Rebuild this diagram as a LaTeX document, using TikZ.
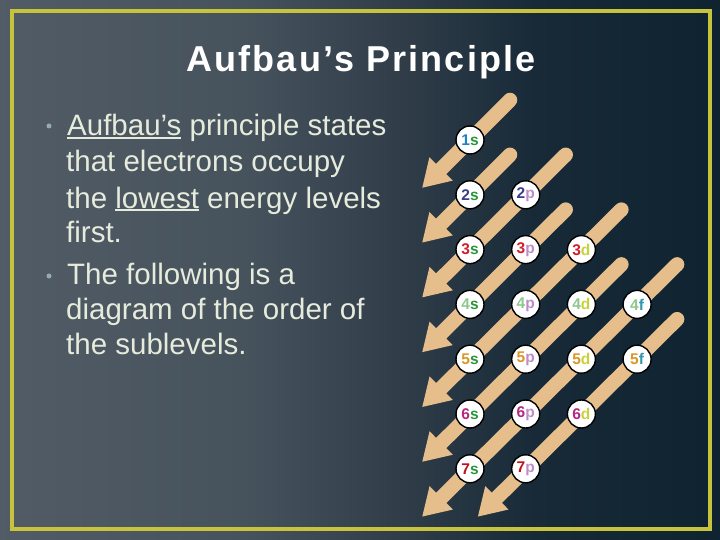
\documentclass[tikz,border=0pt]{standalone}
\usepackage{fontspec}
\setmainfont{Liberation Sans}
\newfontfamily\titlefont{Liberation Sans}[LetterSpace=6]
\usetikzlibrary{arrows.meta}
\definecolor{bgA}{RGB}{72,82,92}
\definecolor{bgB}{RGB}{84,94,104}
\definecolor{bgC}{RGB}{70,82,92}
\definecolor{bgD}{RGB}{48,61,73}
\definecolor{bgE}{RGB}{24,42,56}
\definecolor{bgF}{RGB}{14,34,48}
\definecolor{bgG}{RGB}{10,30,44}
\definecolor{framec}{RGB}{200,195,60}
\definecolor{tanc}{RGB}{230,190,140}
\definecolor{bodyc}{RGB}{230,235,220}
\definecolor{bulc}{RGB}{150,170,180}
\definecolor{d1}{RGB}{30,130,200}
\definecolor{d2}{RGB}{60,60,140}
\definecolor{d3}{RGB}{210,30,40}
\definecolor{d4}{RGB}{140,200,140}
\definecolor{d5}{RGB}{220,150,40}
\definecolor{d6}{RGB}{180,40,130}
\definecolor{d7}{RGB}{190,20,30}
\definecolor{ls}{RGB}{40,150,60}
\definecolor{lp}{RGB}{190,140,200}
\definecolor{ld}{RGB}{200,210,60}
\definecolor{lf}{RGB}{50,150,170}
\pgfdeclarehorizontalshading{bgshade}{100bp}{color(0bp)=(bgA); color(21bp)=(bgB); color(42bp)=(bgC); color(53bp)=(bgD); color(62bp)=(bgE); color(76bp)=(bgF); color(100bp)=(bgG)}
\pgfdeclarelayer{back}
\pgfdeclarelayer{mid}
\pgfsetlayers{back,mid,main}
\newcommand\myul[1]{\setbox0\hbox{#1}\rlap{\rule[-3pt]{\wd0}{1.8pt}}#1}
\newcommand\orbtext[4]{\textcolor{#1}{#2}\textcolor{#3}{#4}}
\begin{document}
\begin{tikzpicture}[x=1pt,y=-1pt,
  orb/.style={circle, draw=black, line width=1.4pt, fill=white, minimum size=28pt, inner sep=0pt, font=\fontsize{15.5}{15.5}\selectfont\bfseries},
  chan/.style={draw=tanc, line width=14.5pt, line cap=round, -{Triangle[width=31pt,length=27pt]}},
  body/.style={anchor=base west, inner sep=0pt, text=bodyc, font=\fontsize{29.5}{36}\selectfont},
  bul/.style={circle, fill=bulc, minimum size=5pt, inner sep=0pt},
  framebox/.style={draw=framec, line width=3.2pt}]
\useasboundingbox (0,0) rectangle (720,540);
\begin{pgfonlayer}{back}
\shade[shading=bgshade] (0,0) rectangle (720,540);
\draw[framebox] (12,11) rectangle (710,529);
\end{pgfonlayer}
% title
\node[font=\titlefont\bfseries\fontsize{36}{40}\selectfont, text=white, anchor=base, inner sep=0pt] (title) at (361,72) {Aufbau’s Principle};
% body
\node[bul] (b1) at (49,126) {};
\node[body] (t1) at (67,136) {\myul{Aufbau’s} principle states};
\node[body] (t2) at (66,172) {that electrons occupy};
\node[body] (t3) at (66,208) {the \myul{lowest} energy levels};
\node[body] (t4) at (66,243) {first.};
\node[bul] (b2) at (49,276) {};
\node[body] (t5) at (67,284) {The following is a};
\node[body] (t6) at (66,319) {diagram of the order of};
\node[body] (t7) at (66,354) {the sublevels.};
% orbitals
\node[orb] (o1s) at (470,140) {\orbtext{d1}{1}{ls}{s}};
\node[orb] (o2s) at (470,194.8) {\orbtext{d2}{2}{ls}{s}};
\node[orb] (o2p) at (525.7,194.8) {\orbtext{d2}{2}{lp}{p}};
\node[orb] (o3s) at (470,249.6) {\orbtext{d3}{3}{ls}{s}};
\node[orb] (o3p) at (525.7,249.6) {\orbtext{d3}{3}{lp}{p}};
\node[orb] (o3d) at (581.4,249.6) {\orbtext{d3}{3}{ld}{d}};
\node[orb] (o4s) at (470,304.4) {\orbtext{d4}{4}{ls}{s}};
\node[orb] (o4p) at (525.7,304.4) {\orbtext{d4}{4}{lp}{p}};
\node[orb] (o4d) at (581.4,304.4) {\orbtext{d4}{4}{ld}{d}};
\node[orb] (o4f) at (637.1,304.4) {\orbtext{d4}{4}{lf}{f}};
\node[orb] (o5s) at (470,359.2) {\orbtext{d5}{5}{ls}{s}};
\node[orb] (o5p) at (525.7,359.2) {\orbtext{d5}{5}{lp}{p}};
\node[orb] (o5d) at (581.4,359.2) {\orbtext{d5}{5}{ld}{d}};
\node[orb] (o5f) at (637.1,359.2) {\orbtext{d5}{5}{lf}{f}};
\node[orb] (o6s) at (470,414) {\orbtext{d6}{6}{ls}{s}};
\node[orb] (o6p) at (525.7,414) {\orbtext{d6}{6}{lp}{p}};
\node[orb] (o6d) at (581.4,414) {\orbtext{d6}{6}{ld}{d}};
\node[orb] (o7s) at (470,468.8) {\orbtext{d7}{7}{ls}{s}};
\node[orb] (o7p) at (525.7,468.8) {\orbtext{d7}{7}{lp}{p}};
% diagonal arrows
\begin{pgfonlayer}{mid}
\draw[chan] ([shift={(40,-40)}]o1s.center) -- ([shift={(-48,48)}]o1s.center);
\draw[chan] ([shift={(40,-40)}]o2s.center) -- ([shift={(-48,48)}]o2s.center);
\draw[chan] ([shift={(40,-40)}]o2p.center) -- ([shift={(-48,48)}]o3s.center);
\draw[chan] ([shift={(40,-40)}]o3p.center) -- ([shift={(-48,48)}]o4s.center);
\draw[chan] ([shift={(40,-40)}]o3d.center) -- ([shift={(-48,48)}]o5s.center);
\draw[chan] ([shift={(40,-40)}]o4d.center) -- ([shift={(-48,48)}]o6s.center);
\draw[chan] ([shift={(40,-40)}]o4f.center) -- ([shift={(-48,48)}]o7s.center);
\draw[chan] ([shift={(40,-40)}]o5f.center) -- ([shift={(-48,48)}]o7p.center);
\end{pgfonlayer}
\end{tikzpicture}
\end{document}
